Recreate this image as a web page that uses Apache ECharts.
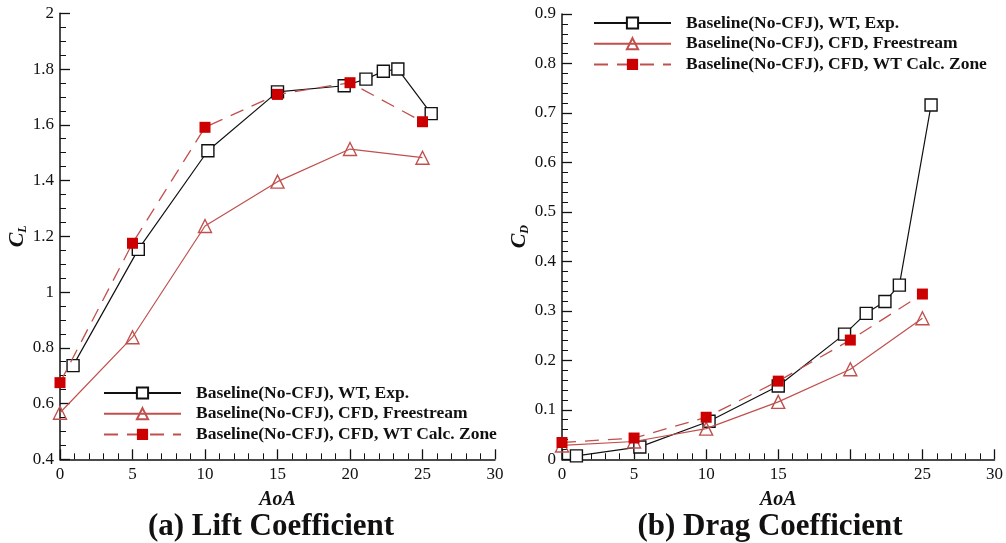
<!DOCTYPE html>
<html><head><meta charset="utf-8">
<script src="https://cdn.jsdelivr.net/npm/echarts@6/dist/echarts.min.js"></script>
<style>html,body{margin:0;padding:0;background:#fff}#c{width:1006px;height:543px}</style>
</head><body><div id="c"></div>
<script>
const seriesNames = ['Baseline(No-CFJ), WT, Exp.', 'Baseline(No-CFJ), CFD, Freestream', 'Baseline(No-CFJ), CFD, WT Calc. Zone'];
const panelTitles = ['(a) Lift Coefficient', '(b) Drag Coefficient'];
// Lift panel
const liftExpAoA = [0.9, 5.4, 10.2, 15, 19.6, 21.1, 22.3, 23.3, 25.6];
const liftExpCL = [0.736, 1.153, 1.507, 1.718, 1.740, 1.764, 1.792, 1.800, 1.640];
const cfdAoA = [0, 5, 10, 15, 20, 25];
const liftFreeCL = [0.567, 0.838, 1.237, 1.396, 1.513, 1.482];
const liftZoneCL = [0.675, 1.175, 1.591, 1.709, 1.751, 1.611];
// Drag panel
const dragExpAoA = [1.0, 5.4, 10.2, 15, 19.6, 21.1, 22.4, 23.4, 25.6];
const dragExpCD = [0.007, 0.025, 0.077, 0.148, 0.253, 0.295, 0.319, 0.352, 0.716];
const dragFreeCD = [0.028, 0.036, 0.062, 0.116, 0.182, 0.285];
const dragZoneCD = [0.034, 0.043, 0.085, 0.158, 0.241, 0.334];
// Axis ticks
const aoaTicks = { min: 0, max: 30, interval: 5 };
const clTicks = { min: 0.4, max: 2, interval: 0.2 };
const cdTicks = { min: 0, max: 0.9, interval: 0.1 };
const dragHiddenXLabels = [20];

const pairs = (xs, ys) => xs.map((x, i) => [x, ys[i]]);
const FONT = 'Liberation Serif';
const BLACK = '#111';
const RED_LINE = '#c0504d';
const RED_FILL = '#cc0000';

function xAxisCfg(gridIndex, hidden) {
  return {
    type: 'value', gridIndex, min: aoaTicks.min, max: aoaTicks.max, interval: aoaTicks.interval,
    name: 'AoA', nameLocation: 'middle', nameGap: 31, nameMoveOverlap: false,
    nameTextStyle: { fontFamily: FONT, fontSize: 20, fontWeight: 'bold', fontStyle: 'italic', color: BLACK },
    axisLine: { lineStyle: { color: BLACK, width: 1.5 } },
    axisTick: { inside: true, length: 10, lineStyle: { color: BLACK, width: 1.3 } },
    minorTick: { show: true, splitNumber: 5, length: 6, lineStyle: { color: BLACK, width: 1 } },
    splitLine: { show: false },
    axisLabel: { fontFamily: FONT, fontSize: 17, color: BLACK, margin: 7,
      formatter: v => hidden.indexOf(v) >= 0 ? '' : String(v) }
  };
}
function yAxisCfg(gridIndex, t, sub, minorSplit, gap) {
  return {
    type: 'value', gridIndex, min: t.min, max: t.max, interval: t.interval,
    name: '{c|C}{s|' + sub + '}', nameLocation: 'middle', nameGap: gap, nameRotate: 90,
    nameTextStyle: { rich: {
      c: { fontFamily: FONT, fontSize: 22, fontWeight: 'bold', fontStyle: 'italic', color: BLACK, lineHeight: 24 },
      s: { fontFamily: FONT, fontSize: 12, fontWeight: 'bold', fontStyle: 'italic', color: BLACK, lineHeight: 12, verticalAlign: 'bottom' }
    } },
    axisLine: { show: true, lineStyle: { color: BLACK, width: 1.5 } },
    axisTick: { show: true, inside: true, length: 10, lineStyle: { color: BLACK, width: 1.3 } },
    minorTick: { show: true, splitNumber: minorSplit, length: 6, lineStyle: { color: BLACK, width: 1 } },
    splitLine: { show: false },
    axisLabel: { fontFamily: FONT, fontSize: 17, color: BLACK, margin: 6 }
  };
}
function expSeries(idx, data) {
  return { name: seriesNames[0], type: 'line', xAxisIndex: idx, yAxisIndex: idx, data,
    symbol: 'rect', symbolSize: 12, showSymbol: true,
    lineStyle: { color: BLACK, width: 1.2 },
    itemStyle: { color: '#fff', borderColor: BLACK, borderWidth: 1.4 }, z: 2 };
}
function freeSeries(idx, data) {
  return { name: seriesNames[1], type: 'line', xAxisIndex: idx, yAxisIndex: idx, data,
    symbol: 'triangle', symbolSize: 13,
    lineStyle: { color: RED_LINE, width: 1.2 },
    itemStyle: { color: 'rgba(255,255,255,0)', borderColor: RED_LINE, borderWidth: 1.4 }, z: 3 };
}
function zoneSeries(idx, data) {
  return { name: seriesNames[2], type: 'line', xAxisIndex: idx, yAxisIndex: idx, data,
    symbol: 'rect', symbolSize: 11,
    lineStyle: { color: RED_LINE, width: 1.3, type: [14, 9] },
    itemStyle: { color: RED_FILL, borderColor: RED_FILL, borderWidth: 0 }, z: 4 };
}
function legendCfg(left, top) {
  return { show: true, orient: 'vertical', left, top, padding: 0, itemGap: 2.7,
    itemWidth: 77, itemHeight: 14, data: seriesNames,
    textStyle: { fontFamily: FONT, fontSize: 17.5, fontWeight: 'bold', color: BLACK, padding: [0, 0, 0, 10] } };
}

const chart = echarts.init(document.getElementById('c'), null, { renderer: 'canvas' });
chart.setOption({
  backgroundColor: '#fff',
  animation: false,
  title: [
    { text: panelTitles[0], left: 271, top: 511, textAlign: 'center', padding: 0,
      textStyle: { fontFamily: FONT, fontSize: 31, fontWeight: 'bold', color: BLACK } },
    { text: panelTitles[1], left: 770, top: 511, textAlign: 'center', padding: 0,
      textStyle: { fontFamily: FONT, fontSize: 31, fontWeight: 'bold', color: BLACK } }
  ],
  legend: [legendCfg(103, 384), legendCfg(593, 14)],
  grid: [
    { left: 60, top: 13.3, width: 435, height: 446, containLabel: false },
    { left: 562, top: 14, width: 435, height: 445.3, containLabel: false }
  ],
  xAxis: [xAxisCfg(0, []), xAxisCfg(1, dragHiddenXLabels)],
  yAxis: [yAxisCfg(0, clTicks, 'L', 4, 29), yAxisCfg(1, cdTicks, 'D', 5, 29)],
  series: [
    expSeries(0, pairs(liftExpAoA, liftExpCL)),
    freeSeries(0, pairs(cfdAoA, liftFreeCL)),
    zoneSeries(0, pairs(cfdAoA, liftZoneCL)),
    expSeries(1, pairs(dragExpAoA, dragExpCD)),
    freeSeries(1, pairs(cfdAoA, dragFreeCD)),
    zoneSeries(1, pairs(cfdAoA, dragZoneCD))
  ]
});
</script></body></html>
